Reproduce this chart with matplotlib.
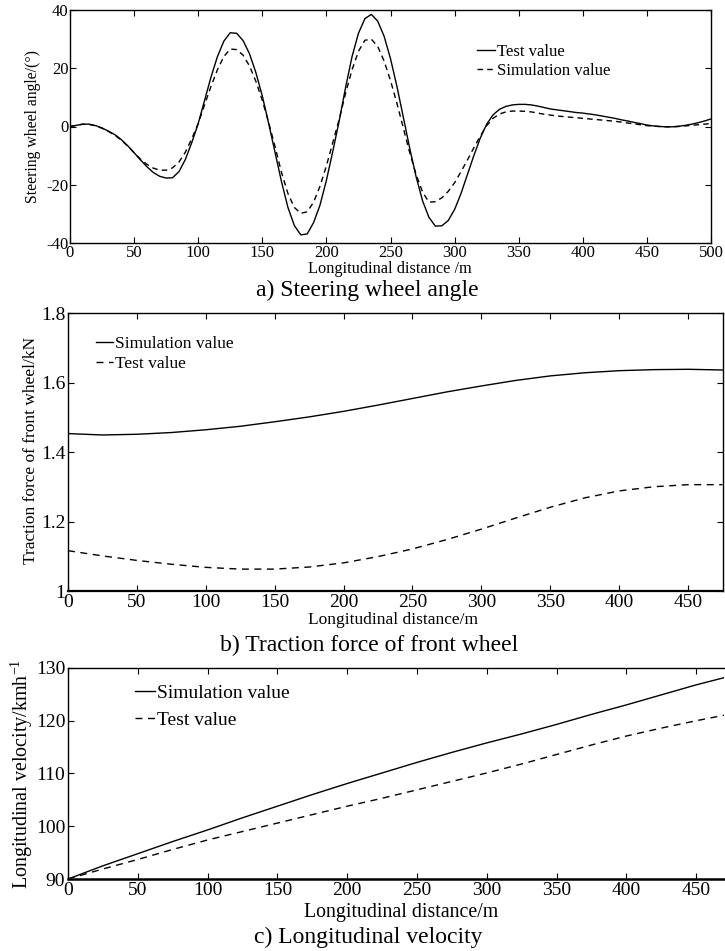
import matplotlib
matplotlib.use("Agg")
import matplotlib.pyplot as plt

plt.rcParams['font.family'] = ['Liberation Serif', 'DejaVu Serif']
plt.rcParams['mathtext.fontset'] = 'custom'
plt.rcParams['mathtext.rm'] = 'Liberation Serif'
plt.rcParams['axes.unicode_minus'] = False

# ---------------- data ----------------
# a) Steering wheel angle
dist_a = list(range(0, 505, 5))
test_a = [0.0, 0.4, 0.8, 0.8, 0.3, -0.5, -1.6, -2.8, -4.5, -6.6,
          -9.0, -11.5, -13.8, -15.8, -17.1, -17.7, -17.6, -15.5, -11.3, -5.5,
          1.0, 9.0, 17.0, 24.0, 29.3, 32.2, 32.0, 29.5, 25.0, 18.5,
          10.5, 1.0, -9.0, -19.0, -27.8, -34.0, -37.2, -36.9, -33.0, -27.0,
          -18.5, -8.5, 2.0, 13.5, 24.0, 32.0, 37.0, 38.5, 36.2, 31.0,
          23.3, 13.8, 3.2, -7.5, -17.3, -25.5, -31.2, -34.2, -34.1, -32.3,
          -28.5, -23.0, -16.5, -10.0, -4.0, 0.8, 4.0, 5.9, 6.9, 7.4,
          7.6, 7.6, 7.4, 7.0, 6.5, 6.0, 5.7, 5.4, 5.1, 4.8,
          4.6, 4.3, 4.0, 3.6, 3.2, 2.8, 2.3, 1.9, 1.4, 1.0,
          0.5, 0.2, 0.0, -0.1, -0.1, 0.1, 0.4, 0.8, 1.3, 1.9,
          2.6]
sim_a = [0.0, 0.4, 0.8, 0.7, 0.2, -0.6, -1.7, -3.0, -4.7, -6.7,
         -9.0, -11.2, -13.0, -14.3, -15.0, -15.0, -14.2, -12.2, -8.8, -4.2,
         1.0, 7.5, 13.8, 19.5, 24.0, 26.6, 26.4, 24.5, 20.8, 15.5,
         9.0, 1.3, -7.0, -15.8, -23.0, -27.8, -29.8, -29.3, -26.0, -20.5,
         -13.5, -5.5, 2.5, 11.5, 19.5, 25.8, 29.6, 30.0, 27.5, 22.5,
         15.8, 8.0, -0.5, -9.0, -16.5, -22.5, -26.0, -25.8, -24.5, -22.3,
         -19.3, -15.5, -11.5, -7.3, -3.3, 0.3, 2.8, 4.3, 5.0, 5.3,
         5.3, 5.2, 5.0, 4.6, 4.2, 3.9, 3.6, 3.4, 3.2, 3.0,
         2.8, 2.6, 2.4, 2.2, 2.0, 1.8, 1.5, 1.2, 0.9, 0.6,
         0.3, 0.1, 0.0, -0.1, -0.1, 0.0, 0.2, 0.4, 0.6, 0.8,
         1.0]

# b) Traction force of front wheel
dist_b = list(range(0, 500, 25))
sim_b = [1.453, 1.449, 1.451, 1.456, 1.464, 1.474, 1.487, 1.501, 1.517, 1.535,
         1.554, 1.573, 1.590, 1.606, 1.619, 1.628, 1.634, 1.637, 1.638, 1.636]
test_b = [1.116, 1.101, 1.088, 1.077, 1.068, 1.063, 1.063, 1.069, 1.081, 1.099,
          1.121, 1.148, 1.178, 1.210, 1.241, 1.268, 1.288, 1.300, 1.306, 1.306]

# c) Longitudinal velocity
dist_c = list(range(0, 500, 25))
sim_c = [90.0, 92.5, 94.8, 97.1, 99.3, 101.6, 103.8, 106.0, 108.1, 110.1,
         112.1, 114.0, 115.8, 117.5, 119.3, 121.2, 123.0, 124.9, 126.8, 128.5]
test_c = [90.0, 91.9, 93.7, 95.6, 97.4, 99.0, 100.6, 102.2, 103.8, 105.3,
          106.9, 108.5, 110.1, 111.8, 113.6, 115.4, 117.1, 118.6, 120.0, 121.3]

xticks_a = list(range(0, 550, 50))
yticks_a = [-40, -20, 0, 20, 40]
xticks_bc = list(range(0, 500, 50))
yticks_b = [1.0, 1.2, 1.4, 1.6, 1.8]
ylabels_b = ['1', '1.2', '1.4', '1.6', '1.8']
yticks_c = [90, 100, 110, 120, 130]

# ---------------- figure ----------------
W, H = 725, 951
fig = plt.figure(figsize=(W / 100, H / 100), dpi=100)


def box(l, t, r, b):
    return [l / W, 1 - b / H, (r - l) / W, (b - t) / H]


def style(ax, size, pad=2.0):
    ax.tick_params(direction='in', top=True, right=True, length=4.3,
                   width=0.8, labelsize=size, pad=pad, colors='black')
    for s in ax.spines.values():
        s.set_linewidth(1.0)


def ftext(x, y, s, size, **kw):
    fig.text(x / W, 1 - y / H, s, fontsize=size, ha='center', va='center', **kw)


# ---- panel a ----
ax = fig.add_axes(box(70, 10, 711, 243))
ax.plot(dist_a, test_a, color='black', lw=1.0, label='Test value')
ax.plot(dist_a, sim_a, color='black', lw=1.0, dashes=(4, 3), label='Simulation value')
ax.set_xlim(0, 500)
ax.set_ylim(-40, 40)
ax.set_xticks(xticks_a)
ax.set_yticks(yticks_a)
style(ax, 12, pad=1.2)
ax.legend(loc='upper left', bbox_to_anchor=(477 / W, 1 - 44 / H),
          bbox_transform=fig.transFigure, frameon=False, fontsize=12,
          handlelength=1.08, handletextpad=0.12, labelspacing=0.17,
          borderpad=0, borderaxespad=0)
ftext(33, 126, 'Steering wheel angle/(°)', 11.3, rotation=90)
ftext(390, 269, 'Longitudinal distance /m', 11.8)
ftext(367, 290, 'a) Steering wheel angle', 17)

# ---- panel b ----
ax = fig.add_axes(box(68, 313, 722.5, 591))
ax.plot(dist_b, sim_b, color='black', lw=1.0, label='Simulation value')
ax.plot(dist_b, test_b, color='black', lw=1.0, dashes=(5, 4), label='Test value')
ax.set_xlim(0, 475)
ax.set_ylim(1.0, 1.8)
ax.set_xticks(xticks_bc)
ax.set_yticks(yticks_b)
ax.set_yticklabels(ylabels_b)
style(ax, 14, pad=2.0)
ax.spines['bottom'].set_linewidth(1.6)
ax.legend(loc='upper left', bbox_to_anchor=(96 / W, 1 - 336 / H),
          bbox_transform=fig.transFigure, frameon=False, fontsize=12.5,
          handlelength=1.0, handletextpad=0.12, labelspacing=0.23,
          borderpad=0, borderaxespad=0)
ftext(31, 450, 'Traction force of front wheel/kN', 12.5, rotation=90)
ftext(393, 620, 'Longitudinal distance/m', 12.5)
ftext(369, 645, 'b) Traction force of front wheel', 17)

# ---- panel c ----
ax = fig.add_axes(box(68, 668, 724, 879))
ax.plot(dist_c, sim_c, color='black', lw=1.0, label='Simulation value')
ax.plot(dist_c, test_c, color='black', lw=1.0, dashes=(5, 4), label='Test value')
ax.set_xlim(0, 470)
ax.set_ylim(90, 130)
ax.set_xticks(xticks_bc)
ax.set_yticks(yticks_c)
style(ax, 14, pad=2.0)
ax.spines['bottom'].set_linewidth(1.8)
ax.spines['right'].set_visible(False)
ax.tick_params(right=False)
ax.legend(loc='upper left', bbox_to_anchor=(135 / W, 1 - 684 / H),
          bbox_transform=fig.transFigure, frameon=False, fontsize=14,
          handlelength=1.03, handletextpad=0.12, labelspacing=0.5,
          borderpad=0, borderaxespad=0)
ftext(22, 774, r'Longitudinal velocity/kmh$^{\mathregular{-1}}$', 14.4, rotation=90)
ftext(401, 912, 'Longitudinal distance/m', 14.3)
ftext(368, 937, 'c) Longitudinal velocity', 17)

fig.savefig('out.png', dpi=100)
